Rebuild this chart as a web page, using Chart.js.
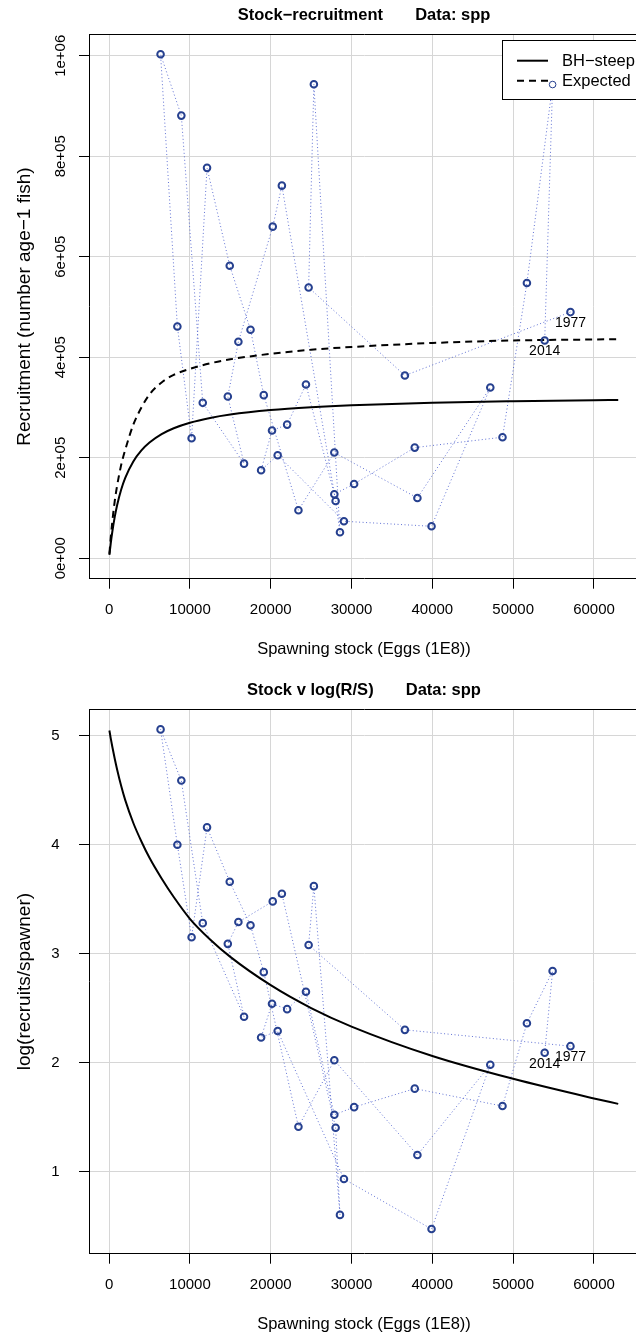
<!DOCTYPE html>
<html>
<head>
<meta charset="utf-8">
<script src="https://cdn.jsdelivr.net/npm/chart.js@4"></script>
<style>
  html, body { margin: 0; padding: 0; background: #fff; }
  .page { position: relative; width: 636px; height: 1336px; overflow: hidden; }
  canvas { position: absolute; left: 0; }
  #srChart { top: 0; }
  #logChart { top: 674.6px; }
</style>
</head>
<body>
<div class="page">
  <canvas id="srChart" width="645" height="668"></canvas>
  <canvas id="logChart" width="645" height="668"></canvas>
</div>
<script>
// observed series, in year order
const years = [1977, 1978, 1979, 1980, 1981, 1982, 1983, 1984, 1985, 1986,
  1987, 1988, 1989, 1990, 1991, 1992, 1993, 1994, 1995, 1996,
  1997, 1998, 1999, 2000, 2001, 2002, 2003, 2004, 2005, 2006,
  2007, 2008, 2009, 2010, 2011, 2012, 2013, 2014];
const stock = [57090, 36600, 24690, 25340, 28570, 28030, 21380, 20250, 16000, 14690,
  16700, 11590, 8940, 6370, 8450, 10210, 12120, 14930, 17500, 19140,
  23430, 27870, 38150, 47170, 39900, 29060, 20860, 18810, 20160, 22030,
  24360, 27870, 30320, 37820, 48680, 51700, 54880, 53900];
const recruits = [490000, 363700, 539000, 943400, 51800, 114100, 741600, 660000, 430900, 322000,
  188400, 309400, 881000, 1003000, 461400, 239000, 777000, 582300, 454800, 324700,
  95600, 210400, 120100, 339800, 63700, 73700, 205200, 175300, 254200, 266100,
  345800, 127500, 148000, 220300, 241000, 547800, 942800, 433500];
const logRS = [2.15, 2.30, 3.08, 3.62, 0.60, 1.40, 3.55, 3.48, 3.29, 3.09,
  2.42, 3.28, 4.59, 5.06, 4.00, 3.15, 4.16, 3.66, 3.26, 2.83,
  1.41, 2.02, 1.15, 1.98, 0.47, 0.93, 2.29, 2.23, 2.54, 2.49,
  2.65, 1.52, 1.59, 1.76, 1.60, 2.36, 2.84, 2.09];
const labelYears = [1977, 2014];

// fitted curves
const curveStock = [40, 200, 400, 700, 1000, 1500, 2000, 3000, 4000, 5000, 6500, 8000,
  10000, 12500, 15000, 20000, 25000, 30000, 40000, 50000, 60000, 63000];
const bhSteep = [6600, 28800, 52800, 82400, 106200, 137000, 160200, 192800, 214700, 230400, 247100, 258800,
  269800, 279400, 286200, 295100, 300700, 304600, 309600, 312600, 314700, 315200];
const expected = [9000, 40000, 73000, 114000, 145000, 186000, 216000, 266000, 300000, 326000, 350000, 365000,
  377000, 388000, 396000, 407000, 415000, 420500, 428500, 433500, 435500, 436200];
const logCurve = [5.05, 4.98, 4.90, 4.79, 4.69, 4.54, 4.41, 4.20, 4.03, 3.88, 3.69, 3.52,
  3.32, 3.13, 2.97, 2.71, 2.50, 2.33, 2.06, 1.85, 1.67, 1.62];

const xTicks = [0, 10000, 20000, 30000, 40000, 50000, 60000];
const yTicksTop = [0, 200000, 400000, 600000, 800000, 1000000];
const yTickLabelsTop = ['0e+00', '2e+05', '4e+05', '6e+05', '8e+05', '1e+06'];
const yTicksBottom = [1, 2, 3, 4, 5];

const FONT = "'Liberation Sans', Arial, Helvetica, sans-serif";
const pointBlue = '#26408f';
const pathBlue = 'rgba(70, 90, 205, 0.85)';

function pts(xs, ys) {
    return xs.map((x, i) => ({ x: x, y: ys[i] }));
}

// draws the legend box after the dotted path, so points stay on top
const legendBox = {
    id: 'legendBox',
    afterDatasetDraw(chart, args, opts) {
        if (!opts.show || chart.data.datasets[args.index].label !== 'path') return;
        const ctx = chart.ctx;
        ctx.save();
        ctx.fillStyle = '#fff';
        ctx.strokeStyle = '#000';
        ctx.lineWidth = 1;
        ctx.fillRect(502.5, 40.5, 150, 59);
        ctx.strokeRect(502.5, 40.5, 150, 59);
        ctx.lineWidth = 2;
        ctx.beginPath();
        ctx.moveTo(517, 60.7); ctx.lineTo(548, 60.7);
        ctx.stroke();
        ctx.setLineDash([7, 5]);
        ctx.beginPath();
        ctx.moveTo(517, 80.7); ctx.lineTo(548, 80.7);
        ctx.stroke();
        ctx.setLineDash([]);
        ctx.fillStyle = '#000';
        ctx.font = '16.5px ' + FONT;
        ctx.textBaseline = 'middle';
        ctx.textAlign = 'left';
        ctx.fillText('BH\u2212steep', 562, 61);
        ctx.fillText('Expected', 562, 81);
        ctx.restore();
    }
};

// year tags under the first and last points
const yearTags = {
    id: 'yearTags',
    afterDatasetsDraw(chart) {
        const idx = chart.data.datasets.findIndex(d => d.label === 'obs');
        const meta = chart.getDatasetMeta(idx);
        const ctx = chart.ctx;
        ctx.save();
        ctx.fillStyle = '#000';
        ctx.font = '14px ' + FONT;
        ctx.textAlign = 'center';
        ctx.textBaseline = 'middle';
        labelYears.forEach(yr => {
            const el = meta.data[years.indexOf(yr)];
            ctx.fillText(String(yr), el.x, el.y + 11);
        });
        ctx.restore();
    }
};

function makeChart(canvasId, title, yLabel, ys, yMin, yMax, yTicks, yTickText, rotateY, curves, thinIndex) {
    const borderWidths = years.map((y, i) => i === thinIndex ? 1 : 2);
    const datasets = [
        {
            label: 'path', type: 'scatter', data: pts(stock, ys), showLine: true,
            borderColor: pathBlue, borderWidth: 1, borderDash: [1, 2.5],
            pointRadius: 0, order: 5
        }
    ];
    curves.forEach((c, k) => datasets.push({
        label: c.label, type: 'line', data: pts(c.xs, c.ys),
        borderColor: '#000', borderWidth: 2, borderDash: c.dash || [],
        pointRadius: 0, cubicInterpolationMode: 'monotone', order: 2 + k
    }));
    datasets.push({
        label: 'obs', type: 'scatter', data: pts(stock, ys),
        pointRadius: 3.3, pointBorderWidth: borderWidths,
        pointBorderColor: pointBlue, pointBackgroundColor: 'rgba(0,0,0,0)', order: 1
    });

    return new Chart(document.getElementById(canvasId), {
        type: 'scatter',
        data: { datasets },
        options: {
            responsive: false,
            animation: false,
            events: [],
            layout: { padding: 0 },
            scales: {
                x: {
                    type: 'linear', position: 'bottom', min: -2485, max: 65570,
                    afterBuildTicks: s => { s.ticks = xTicks.map(v => ({ value: v })); },
                    afterFit: s => { s.height = 89.3; },
                    ticks: {
                        autoSkip: false, maxRotation: 0, padding: 12.3, color: '#000',
                        font: { family: FONT, size: 15 },
                        callback: v => String(v)
                    },
                    grid: { color: '#d6d6d6', lineWidth: 1, tickLength: 10, tickColor: '#000', tickWidth: 1 },
                    border: { display: true, color: '#000', width: 1 },
                    title: {
                        display: true, text: 'Spawning stock (Eggs (1E8))', color: '#000',
                        font: { family: FONT, size: 16.5 }, padding: { top: 0, bottom: 9 }
                    }
                },
                xTop: {
                    type: 'linear', position: 'top', display: true, min: -2485, max: 65570,
                    afterFit: s => { s.height = 0; },
                    ticks: { display: false },
                    grid: { display: false, drawTicks: false },
                    border: { display: true, color: '#000', width: 1 }
                },
                y: {
                    type: 'linear', position: 'left', min: yMin, max: yMax,
                    afterBuildTicks: s => { s.ticks = yTicks.map(v => ({ value: v })); },
                    afterFit: s => { s.width = 89; },
                    ticks: {
                        autoSkip: false, color: '#000',
                        minRotation: rotateY ? 90 : 0, maxRotation: rotateY ? 90 : 0,
                        crossAlign: rotateY ? 'center' : 'near',
                        padding: rotateY ? -3 : 19.5,
                        font: { family: FONT, size: 15 },
                        callback: v => yTickText[yTicks.indexOf(v)]
                    },
                    grid: { color: '#d6d6d6', lineWidth: 1, tickLength: 10, tickColor: '#000', tickWidth: 1 },
                    border: { display: true, color: '#000', width: 1 },
                    title: {
                        display: true, text: yLabel, color: '#000',
                        font: { family: FONT, size: 19 }, padding: { top: 13.6, bottom: 0 }
                    }
                }
            },
            plugins: {
                legend: { display: false },
                tooltip: { enabled: false },
                title: {
                    display: true, text: title, color: '#000', fullSize: false,
                    font: { family: FONT, size: 16.5, weight: 'bold' },
                    padding: { top: 5.6, bottom: 9.1 }
                },
                legendBox: { show: canvasId === 'srChart' }
            }
        },
        plugins: [legendBox, yearTags]
    });
}

makeChart('srChart', 'Stock\u2212recruitment       Data: spp', 'Recruitment (number age\u22121 fish)',
    recruits, -40600, 1042400, yTicksTop, yTickLabelsTop, true,
    [
        { label: 'BH\u2212steep', xs: curveStock, ys: bhSteep },
        { label: 'Expected', xs: curveStock, ys: expected, dash: [7, 5] }
    ],
    years.indexOf(2013));

makeChart('logChart', 'Stock v log(R/S)       Data: spp', 'log(recruits/spawner)',
    logRS, 0.2437, 5.2426, yTicksBottom, yTicksBottom.map(String), false,
    [
        { label: 'BH\u2212steep', xs: curveStock, ys: logCurve }
    ],
    -1);
</script>
</body>
</html>
